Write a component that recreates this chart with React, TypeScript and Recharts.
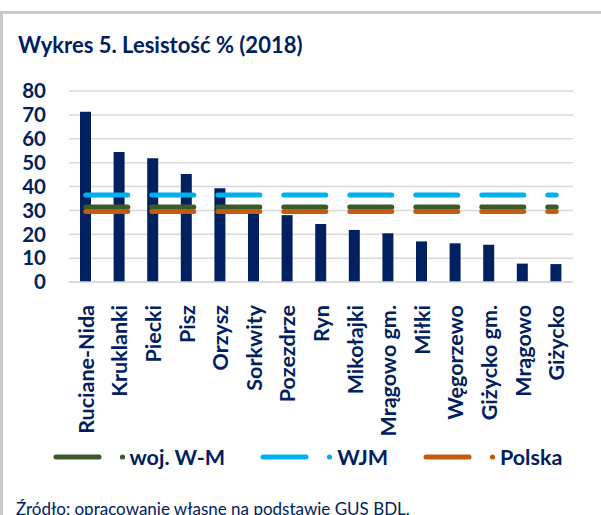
import React from "react";
import { ComposedChart, Bar, Line, XAxis, YAxis, CartesianGrid, Legend } from "recharts";

const NAVY = "#002060";
const FONT = "Lato, 'Noto Sans', sans-serif";

const gminy = [
  "Ruciane-Nida", "Kruklanki", "Piecki", "Pisz", "Orzysz", "Sorkwity", "Pozezdrze", "Ryn",
  "Mikołajki", "Mrągowo gm.", "Miłki", "Węgorzewo", "Giżycko gm.", "Mrągowo", "Giżycko",
];
const lesistosc = [71.3, 54.4, 51.8, 45.2, 39.3, 29, 28, 24.3, 21.8, 20.4, 17.0, 16.2, 15.6, 7.7, 7.5];
const wojWM = [31.4, 31.4, 31.4, 31.4, 31.4, 31.4, 31.4, 31.4, 31.4, 31.4, 31.4, 31.4, 31.4, 31.4, 31.4];
const wjm = [36.4, 36.4, 36.4, 36.4, 36.4, 36.4, 36.4, 36.4, 36.4, 36.4, 36.4, 36.4, 36.4, 36.4, 36.4];
const polska = [29.5, 29.5, 29.5, 29.5, 29.5, 29.5, 29.5, 29.5, 29.5, 29.5, 29.5, 29.5, 29.5, 29.5, 29.5];
const legendOrder = ["woj. W-M", "WJM", "Polska"];
const yTicks = [0, 10, 20, 30, 40, 50, 60, 70, 80];

const data = gminy.map((name, i) => ({
  name,
  value: lesistosc[i],
  wm: wojWM[i],
  wjm: wjm[i],
  pl: polska[i],
}));

// rotated category label, centred on the bar
const XTick = ({ x, y, payload }: any) => (
  <text
    x={x}
    y={y + 23}
    transform={`rotate(-90, ${x}, ${y + 23})`}
    textAnchor="end"
    dominantBaseline="central"
    fill={NAVY}
    fontFamily={FONT}
    fontWeight={700}
    fontSize={21.5}
  >
    {payload.value}
  </text>
);

const renderLegend = ({ payload }: any) => {
  const items = payload
    .filter((p: any) => p.type !== "none")
    .sort((a: any, b: any) => legendOrder.indexOf(a.value) - legendOrder.indexOf(b.value));
  return (
    <div style={{ display: "flex", alignItems: "center", paddingLeft: 50.5 }}>
      {items.map((p: any, i: number) => (
        <div key={i} style={{ display: "flex", alignItems: "center", marginRight: 33 }}>
          <svg width={74} height={20}>
            <line x1={5} y1={10} x2={48} y2={10} stroke={p.color} strokeWidth={5} strokeLinecap="round" />
            <circle cx={71.5} cy={10} r={2.6} fill={p.color} />
          </svg>
          <span style={{ color: NAVY, fontFamily: FONT, fontWeight: 700, fontSize: 21.5, marginLeft: 5 }}>
            {p.value}
          </span>
        </div>
      ))}
    </div>
  );
};

export default function App() {
  return (
    <div style={{ position: "absolute", left: 0, top: 0, width: 601, height: 515, background: "#fff", overflow: "hidden" }}>
      {/* frame */}
      <div style={{ position: "absolute", left: 0, top: 11, width: 601, height: 3, background: "#c9c9c9" }} />
      <div style={{ position: "absolute", left: 0, top: 11, width: 3, height: 504, background: "#c9c9c9" }} />

      <div style={{ position: "absolute", left: 18, top: 31, color: NAVY, fontFamily: FONT, fontWeight: 700, fontSize: 22, whiteSpace: "nowrap" }}>
        Wykres 5. Lesistość % (2018)
      </div>

      <div style={{ position: "absolute", left: 0, top: 0 }}>
        <ComposedChart width={601} height={515} data={data} margin={{ top: 91, right: 28, bottom: 73, left: 9 }}>
          <CartesianGrid vertical={false} stroke="#d9d9d9" strokeWidth={1.5} />
          <XAxis
            dataKey="name"
            interval={0}
            height={160}
            tickSize={0}
            tickMargin={0}
            axisLine={{ stroke: "#d9d9d9", strokeWidth: 1.5 }}
            tickLine={false}
            tick={<XTick />}
          />
          <YAxis
            width={60}
            domain={[0, 80]}
            ticks={yTicks}
            interval={0}
            axisLine={false}
            tickLine={false}
            tickSize={0}
            tickMargin={23}
            tick={{ fill: NAVY, fontFamily: FONT, fontWeight: 700, fontSize: 20.5 }}
          />
          <Legend
            layout="horizontal"
            verticalAlign="middle"
            align="center"
            content={renderLegend}
            wrapperStyle={{ top: 444, left: 0, width: 601 }}
          />
          <Bar dataKey="value" fill={NAVY} barSize={11} legendType="none" isAnimationActive={false} />
          <Line dataKey="wm" name="woj. W-M" stroke="#3b5a25" strokeWidth={5} strokeDasharray="42 24" strokeLinecap="round" dot={false} activeDot={false} isAnimationActive={false} />
          <Line dataKey="wjm" name="WJM" stroke="#00b0f0" strokeWidth={5} strokeDasharray="42 24" strokeLinecap="round" dot={false} activeDot={false} isAnimationActive={false} />
          <Line dataKey="pl" name="Polska" stroke="#c55a11" strokeWidth={5} strokeDasharray="42 24" strokeLinecap="round" dot={false} activeDot={false} isAnimationActive={false} />
        </ComposedChart>
      </div>

      <div style={{ position: "absolute", left: 16, top: 498, color: NAVY, fontFamily: FONT, fontSize: 17, whiteSpace: "nowrap" }}>
        Źródło: opracowanie własne na podstawie GUS BDL.
      </div>
    </div>
  );
}
